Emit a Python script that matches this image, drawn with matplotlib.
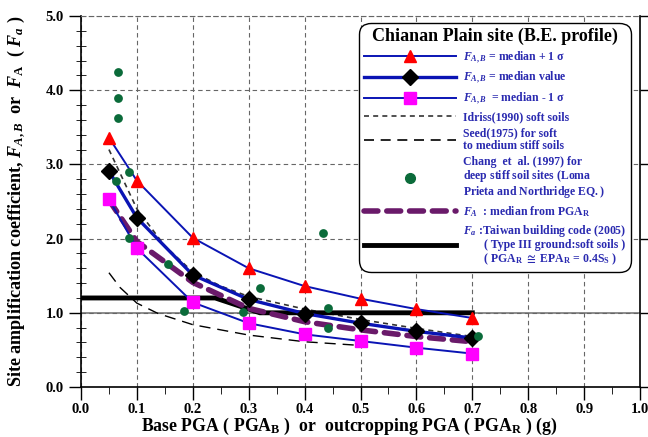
import numpy as np
import matplotlib
matplotlib.use("Agg")
import matplotlib.pyplot as plt
from matplotlib.lines import Line2D
from matplotlib.ticker import MultipleLocator, FormatStrFormatter

plt.rcParams["font.family"] = ["Liberation Serif", "DejaVu Serif"]
plt.rcParams["font.weight"] = "bold"
plt.rcParams["mathtext.fontset"] = "custom"
plt.rcParams["mathtext.rm"] = "Liberation Serif"
plt.rcParams["mathtext.it"] = "Liberation Serif:italic:bold"
plt.rcParams["mathtext.bf"] = "Liberation Serif:bold"

# data
pga = [0.05, 0.1, 0.2, 0.3, 0.4, 0.5, 0.6, 0.7]
fab_plus = [3.36, 2.78, 2.01, 1.60, 1.36, 1.19, 1.05, 0.93]
fab_med = [2.91, 2.28, 1.51, 1.18, 0.99, 0.86, 0.75, 0.66]
fab_minus = [2.53, 1.87, 1.14, 0.86, 0.71, 0.62, 0.53, 0.45]
fa_med = [2.52, 1.96, 1.41, 1.06, 0.88, 0.77, 0.68, 0.61]

idriss_x = [0.05, 0.1, 0.15, 0.2, 0.25, 0.3, 0.4, 0.5, 0.6, 0.7]
idriss_y = [3.20, 2.40, 1.90, 1.55, 1.36, 1.22, 1.05, 0.91, 0.79, 0.68]

seed_x = [0.05, 0.07, 0.1, 0.138, 0.2, 0.3, 0.4, 0.5]
seed_y = [1.54, 1.34, 1.13, 0.99, 0.84, 0.70, 0.61, 0.56]

chang_x = [0.067, 0.067, 0.067, 0.085, 0.062, 0.085, 0.156, 0.185,
           0.29, 0.321, 0.432, 0.442, 0.442, 0.71]
chang_y = [4.24, 3.89, 3.63, 2.90, 2.77, 2.01, 1.66, 1.03,
           1.01, 1.34, 2.07, 1.07, 0.80, 0.69]

code_x = [0.0, 0.24, 0.32, 0.7]
code_y = [1.2, 1.2, 1.0, 1.0]

BLUE = "#0a14b4"
TXT = "#2a2ab0"
PURPLE = "#6a1a6a"
GREEN = "#0b6b3a"

fig = plt.figure(figsize=(6.48, 4.37), dpi=100)
ax = fig.add_axes([0.125, 0.1144, 0.8627, 0.849])

ax.grid(True, which="major", ls=(0, (4, 3)), color="#666666", lw=0.8)
ax.axhline(1.0, color="#8c8c8c", lw=1.4, zorder=1)

ax.plot(idriss_x, idriss_y, color="#333333", lw=1.2, ls=(0, (3, 2.5)), zorder=3)
ax.plot(seed_x, seed_y, color="black", lw=1.0, ls=(0, (8, 5)), zorder=3)
ax.plot(code_x, code_y, color="black", lw=3.5, zorder=3)
ax.plot(pga, fa_med, color=PURPLE, lw=4, ls=(0, (2.5, 1.6)), zorder=4,
        dash_capstyle="round")
ax.plot(pga, fab_plus, color=BLUE, lw=1.4, marker="^", ms=9,
        mfc="red", mec="red", zorder=5)
ax.plot(pga, fab_med, color=BLUE, lw=2.4, marker="D", ms=8,
        mfc="black", mec="black", zorder=5)
ax.plot(pga, fab_minus, color=BLUE, lw=1.4, marker="s", ms=8,
        mfc="magenta", mec="magenta", zorder=5)
ax.scatter(chang_x, chang_y, s=40, color=GREEN, zorder=6, lw=0)

ax.set_xlim(0, 1.0)
ax.set_ylim(0, 5.0)
ax.xaxis.set_major_locator(MultipleLocator(0.1))
ax.xaxis.set_minor_locator(MultipleLocator(0.05))
ax.yaxis.set_major_locator(MultipleLocator(1.0))
ax.yaxis.set_minor_locator(MultipleLocator(0.2))
ax.xaxis.set_major_formatter(FormatStrFormatter("%.1f"))
ax.yaxis.set_major_formatter(FormatStrFormatter("%.1f"))
ax.tick_params(axis="both", which="major", direction="out", length=9, width=1,
               labelsize=10.5, right=True)
ax.tick_params(axis="x", which="major", pad=2.5)
ax.tick_params(axis="x", which="minor", direction="out", length=5)
ax.tick_params(axis="y", which="minor", direction="inout", length=7)
for t in ax.get_xticklabels() + ax.get_yticklabels():
    t.set_fontweight("bold")

ax.spines["top"].set_linestyle((0, (4, 3)))
ax.spines["top"].set_color("#666666")
ax.spines["top"].set_linewidth(0.8)
for s in ["left", "bottom", "right"]:
    ax.spines[s].set_linewidth(1.2)

ax.set_xlabel(r"Base PGA ( PGA$_\mathbf{B}$ )  or  outcropping PGA ( PGA$_\mathbf{R}$ ) (g)",
              fontsize=12.8, fontweight="bold")
ax.xaxis.set_label_coords(0.480, -0.077)
ax.set_ylabel(r"Site amplification coefficient, $F_{A,B}$  or  $F_\mathbf{A}$  ( $F_a$ )",
              fontsize=13.1, fontweight="bold")
ax.yaxis.set_label_coords(-0.095, 0.5)

handles = [
    Line2D([], [], color=BLUE, lw=1.4, marker="^", ms=9, mfc="red", mec="red"),
    Line2D([], [], color=BLUE, lw=2.4, marker="D", ms=8, mfc="black", mec="black"),
    Line2D([], [], color=BLUE, lw=1.4, marker="s", ms=8, mfc="magenta", mec="magenta"),
    Line2D([], [], color="#333333", lw=1.2, ls=(0, (3, 2.5))),
    Line2D([], [], color="black", lw=1.2, ls=(0, (6, 4))),
    Line2D([], [], ls="none", marker="o", ms=7, mfc=GREEN, mec=GREEN),
    Line2D([], [], color=PURPLE, lw=4, ls=(0, (2.5, 1.6)), dash_capstyle="round"),
    Line2D([], [], color="black", lw=3.5),
]
labels = [
    r"$F_{A,B}$ = median + 1 σ",
    r"$F_{A,B}$ = median value",
    r"$F_{A,B}$  = median - 1 σ",
    "Idriss(1990) soft soils",
    "Seed(1975) for soft\nto medium stiff soils",
    "Chang  et  al. (1997) for\ndeep stiff soil sites $\\mathrm{(Loma}$\n"
    "$\\mathrm{Prieta\\ and\\ Northridge\\ EQ.)}$",
    r"$F_A$  : median from PGA$_\mathbf{R}$",
    "$F_a$ :Taiwan building code (2005)\n       ( Type III ground:soft soils )\n"
    "       ( PGA$_\\mathbf{R}$ $\\cong$ EPA$_\\mathbf{R}$ = 0.4S$_\\mathbf{S}$ )",
]
leg = ax.legend(handles, labels, loc="upper right", bbox_to_anchor=(0.984, 0.982),
                borderaxespad=0, title="Chianan Plain site (B.E. profile)",
                title_fontproperties={"size": 13, "weight": "bold"},
                prop={"size": 8.5, "weight": "bold"}, handlelength=7.8,
                handletextpad=0.55, labelspacing=0.36, borderpad=0.42,
                framealpha=1, edgecolor="black", fancybox=True)
leg.get_frame().set_boxstyle("round", pad=0, rounding_size=1.0)
leg.get_frame().set_linewidth(1.0)
leg.set_zorder(10)
for t in leg.get_texts():
    t.set_color(TXT)
    t.set_linespacing(1.0)

fig.savefig("out.png", dpi=100)
